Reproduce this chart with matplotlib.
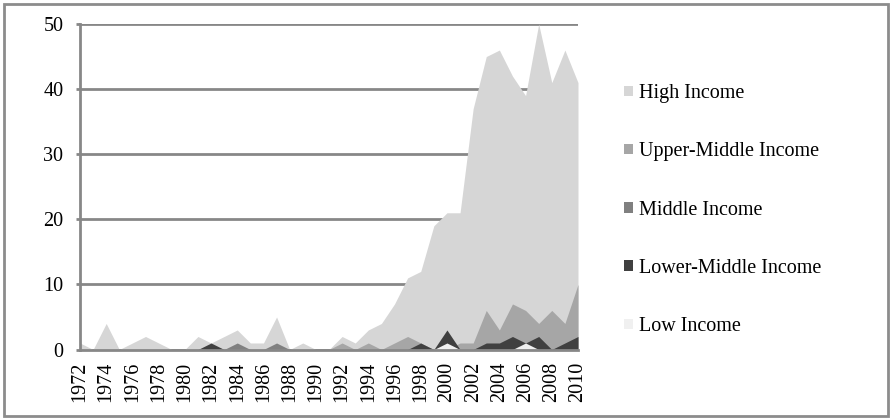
import numpy as np
import matplotlib.pyplot as plt
from matplotlib.patches import Patch, Rectangle

plt.rcParams['font.family'] = ['Liberation Serif', 'DejaVu Serif']

# Data
years = list(range(1972, 2011))
high_income = [1, 0, 4, 0, 1, 2, 1, 0, 0, 2, 1, 2, 3, 1, 1, 5, 0, 1, 0, 0,
               2, 1, 3, 4, 7, 11, 12, 19, 21, 21, 37, 45, 46, 42, 39, 50, 41, 46, 41]
upper_middle = [0, 0, 0, 0, 0, 0, 0, 0, 0, 0, 0, 0, 0, 0, 0, 0, 0, 0, 0, 0,
                1, 0, 1, 0, 1, 2, 1, 0, 0, 1, 1, 6, 3, 7, 6, 4, 6, 4, 10]
middle = [0, 0, 0, 0, 0, 0, 0, 0, 0, 0, 0, 0, 1, 0, 0, 1, 0, 0, 0, 0,
          0, 0, 0, 0, 0, 0, 0, 0, 0, 0, 0, 0, 0, 0, 0, 0, 0, 0, 0]
lower_middle = [0, 0, 0, 0, 0, 0, 0, 0, 0, 0, 1, 0, 0, 0, 0, 0, 0, 0, 0, 0,
                0, 0, 0, 0, 0, 0, 1, 0, 3, 0, 0, 1, 1, 2, 1, 2, 0, 1, 2]
low_income = [0, 0, 0, 0, 0, 0, 0, 0, 0, 0, 0, 0, 0, 0, 0, 0, 0, 0, 0, 0,
              0, 0, 0, 0, 0, 0, 0, 0, 1, 0, 0, 0, 0, 0, 1, 0, 0, 0, 0]

series = [
    ('High Income', high_income, '#d6d6d6'),
    ('Upper-Middle Income', upper_middle, '#a6a6a6'),
    ('Middle Income', middle, '#808080'),
    ('Lower-Middle Income', lower_middle, '#404040'),
    ('Low Income', low_income, '#f0f0f0'),
]

W, H = 892, 419
fig = plt.figure(figsize=(W / 100, H / 100), dpi=100)
ax = fig.add_axes([80 / W, 1 - 349.5 / H, (578 - 80) / W, (349.5 - 24) / H])

# overlapping (non-stacked) areas, first series at the back
for i, (name, vals, col) in enumerate(series):
    ax.fill_between(years, 0, vals, color=col, linewidth=0, zorder=2 + i)

grid_col = '#878787'
ax.set_xlim(years[0], years[-1])
ax.set_ylim(0, 50)
ax.set_yticks(range(0, 51, 10))
ax.set_xticks(years[::2])
ax.set_xticklabels([str(y) for y in years[::2]], rotation=90)
ax.set_axisbelow(True)
ax.grid(axis='y', color=grid_col, linewidth=2)
ax.grid(axis='x', visible=False)

for s in ['top', 'right']:
    ax.spines[s].set_visible(False)
for s in ['left', 'bottom']:
    ax.spines[s].set_color(grid_col)
    ax.spines[s].set_linewidth(2)
    ax.spines[s].set_zorder(10)

ax.tick_params(axis='y', length=3, width=2, color=grid_col, pad=9, labelsize=14.5)
ax.tick_params(axis='x', length=0, pad=9, labelsize=14.5)

handles = [Patch(facecolor=c, edgecolor='none', label=n) for n, v, c in series]
fig.legend(handles=handles, loc='upper left', bbox_to_anchor=(616 / W, 1 - 76 / H),
           frameon=False, fontsize=14.5, handlelength=0.42, handleheight=0.42,
           handletextpad=0.3, labelspacing=1.95, borderaxespad=0)

# outer chart border
fig.patches.append(Rectangle((4 / W, 3 / H), 884 / W, 412 / H, transform=fig.transFigure,
                             fill=False, edgecolor='#8c8c8c', linewidth=2))

fig.savefig('out.png', dpi=100)
